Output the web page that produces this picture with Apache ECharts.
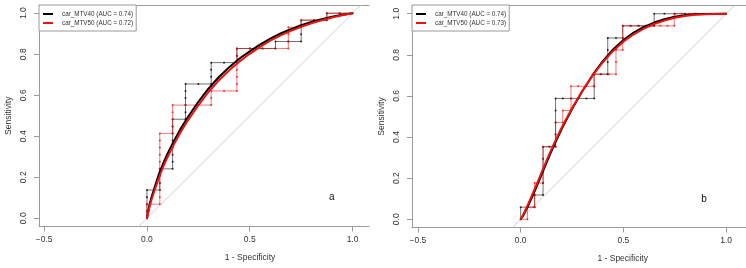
<!DOCTYPE html>
<html>
<head>
<meta charset="utf-8">
<script src="https://cdn.jsdelivr.net/npm/echarts@6/dist/echarts.min.js"></script>
<style>
html,body{margin:0;padding:0;background:#fff;}
#chart{width:746px;height:268px;}
</style>
</head>
<body>
<div id="chart"></div>
<script>
// ---------- DATA ----------
var xTicks = [-0.5, 0, 0.5, 1.0];
var xTickLabels = ['\u22120.5', '0.0', '0.5', '1.0'];
var yTicks = [0, 0.2, 0.4, 0.6, 0.8, 1.0];
var yTickLabels = ['0.0', '0.2', '0.4', '0.6', '0.8', '1.0'];

var legendA = ['car_MTV40 (AUC = 0.74)', 'car_MTV50 (AUC = 0.72)'];
var legendB = ['car_MTV40 (AUC = 0.74)', 'car_MTV50 (AUC = 0.73)'];
var panelLabels = ['a', 'b'];
var xTitle = '1 - Specificity';
var yTitle = 'Sensitivity';

var diagonal = [[-0.04, -0.04], [1.04, 1.04]];

// panel a – empirical (step) curves, one point per threshold
var stepA40 = [[0,0],[0,0.034],[0,0.069],[0,0.103],[0,0.138],
  [0.0625,0.138],[0.0625,0.172],[0.0625,0.207],[0.0625,0.241],
  [0.125,0.241],[0.125,0.276],[0.125,0.310],[0.125,0.345],[0.125,0.379],[0.125,0.414],[0.125,0.448],[0.125,0.483],
  [0.1875,0.483],[0.1875,0.517],[0.1875,0.552],[0.1875,0.586],[0.1875,0.621],[0.1875,0.655],
  [0.25,0.655],[0.3125,0.655],[0.3125,0.690],[0.3125,0.724],[0.3125,0.759],
  [0.375,0.759],[0.4375,0.759],[0.4375,0.793],[0.4375,0.828],
  [0.5,0.828],[0.5625,0.828],[0.625,0.828],[0.625,0.862],
  [0.6875,0.862],[0.75,0.862],[0.75,0.897],[0.75,0.931],[0.75,0.966],
  [0.8125,0.966],[0.875,0.966],[0.875,1],[0.9375,1],[1,1]];
var stepA50 = [[0,0],[0,0.034],[0,0.069],
  [0.0625,0.069],[0.0625,0.103],[0.0625,0.138],[0.0625,0.172],[0.0625,0.207],[0.0625,0.241],[0.0625,0.276],[0.0625,0.310],[0.0625,0.345],[0.0625,0.379],[0.0625,0.414],
  [0.125,0.414],[0.125,0.448],[0.125,0.483],[0.125,0.517],[0.125,0.552],
  [0.1875,0.552],[0.25,0.552],[0.3125,0.552],[0.3125,0.586],[0.3125,0.621],
  [0.375,0.621],[0.4375,0.621],[0.4375,0.655],[0.4375,0.690],[0.4375,0.724],[0.4375,0.759],[0.4375,0.793],[0.4375,0.828],
  [0.5,0.828],[0.5625,0.828],[0.625,0.828],[0.6875,0.828],[0.6875,0.862],[0.6875,0.897],[0.6875,0.931],
  [0.75,0.931],[0.75,0.966],[0.8125,0.966],[0.875,0.966],[0.875,1],[0.9375,1],[1,1]];
// panel a – smoothed curves
var smoothA40 = [[0,0],[0.01,0.055],[0.02,0.095],[0.04,0.16],[0.06,0.22],[0.08,0.27],[0.1,0.315],[0.13,0.375],[0.16,0.43],[0.2,0.495],[0.25,0.568],[0.3,0.633],[0.35,0.689],[0.4,0.737],[0.45,0.779],[0.5,0.814],[0.55,0.847],[0.6,0.876],[0.65,0.901],[0.7,0.922],[0.75,0.941],[0.8,0.957],[0.85,0.971],[0.9,0.983],[0.95,0.993],[1,1]];
var smoothA50 = [[0,0],[0.01,0.045],[0.02,0.083],[0.04,0.145],[0.06,0.203],[0.08,0.253],[0.1,0.298],[0.13,0.358],[0.16,0.413],[0.2,0.479],[0.25,0.551],[0.3,0.617],[0.35,0.673],[0.4,0.722],[0.45,0.765],[0.5,0.802],[0.55,0.836],[0.6,0.866],[0.65,0.892],[0.7,0.914],[0.75,0.934],[0.8,0.951],[0.85,0.966],[0.9,0.979],[0.95,0.99],[1,1]];

// panel b – empirical (step) curves
var stepB40 = [[0,0],[0,0.059],[0.034,0.059],[0.068,0.059],[0.068,0.118],
  [0.109,0.118],[0.109,0.176],[0.109,0.235],[0.109,0.294],[0.109,0.353],
  [0.14,0.353],[0.17,0.353],[0.17,0.412],[0.17,0.471],[0.17,0.529],[0.17,0.588],
  [0.205,0.588],[0.245,0.588],[0.28,0.588],[0.32,0.588],[0.358,0.588],[0.358,0.647],[0.358,0.706],
  [0.39,0.706],[0.424,0.706],[0.424,0.765],[0.424,0.824],[0.424,0.882],
  [0.464,0.882],[0.497,0.882],[0.497,0.941],
  [0.535,0.941],[0.575,0.941],[0.61,0.941],[0.65,0.941],[0.65,1],
  [0.7,1],[0.75,1],[0.8,1],[0.85,1],[0.9,1],[0.95,1],[1,1]];
var stepB50 = [[0,0],[0.033,0],[0.033,0.059],[0.068,0.059],[0.068,0.118],[0.068,0.176],
  [0.109,0.176],[0.109,0.235],[0.109,0.294],[0.109,0.353],
  [0.14,0.353],[0.17,0.353],[0.17,0.412],[0.17,0.471],
  [0.205,0.471],[0.205,0.529],[0.245,0.529],[0.245,0.588],[0.245,0.647],
  [0.28,0.647],[0.32,0.647],[0.358,0.647],[0.358,0.706],
  [0.39,0.706],[0.43,0.706],[0.464,0.706],[0.464,0.765],[0.464,0.824],
  [0.497,0.824],[0.497,0.882],[0.497,0.941],
  [0.535,0.941],[0.57,0.941],[0.61,0.941],[0.645,0.941],[0.68,0.941],[0.715,0.941],[0.748,0.941],[0.748,1],
  [0.785,1],[0.82,1],[0.855,1],[0.89,1],[0.925,1],[0.96,1],[1,1]];
// panel b – smoothed curves
var smoothB40 = [[0,0],[0.01,0.015],[0.02,0.033],[0.04,0.074],[0.06,0.118],[0.08,0.165],[0.1,0.213],[0.13,0.285],[0.16,0.355],[0.2,0.44],[0.25,0.536],[0.3,0.623],[0.35,0.701],[0.4,0.769],[0.45,0.826],[0.5,0.872],[0.55,0.908],[0.6,0.936],[0.65,0.957],[0.7,0.973],[0.75,0.985],[0.8,0.993],[0.85,0.997],[0.9,0.999],[1,1]];
var smoothB50 = [[0,0],[0.01,0.018],[0.02,0.038],[0.04,0.082],[0.06,0.128],[0.08,0.175],[0.1,0.223],[0.13,0.295],[0.16,0.363],[0.2,0.447],[0.25,0.54],[0.3,0.624],[0.35,0.699],[0.4,0.764],[0.45,0.819],[0.5,0.864],[0.55,0.9],[0.6,0.928],[0.65,0.95],[0.7,0.967],[0.75,0.98],[0.8,0.989],[0.85,0.995],[0.9,0.998],[1,1]];

// ---------- STYLE ----------
var FONT = '"Liberation Sans", Arial, Helvetica, sans-serif';
var AXIS_COL = '#9a9a9a';
var TEXT_COL = '#333';
var BLACK = '#000000';
var RED = '#f01010';

var grids = [
  {left: 39, top: 5, width: 330, height: 221.5, xmin: -0.525, xmax: 1.08},
  {left: 412, top: 5.5, width: 334, height: 222, xmin: -0.529, xmax: 1.097}
];

var chart = echarts.init(document.getElementById('chart'), null, {renderer: 'canvas'});

function fmtFrom(vals, labels) {
  return function (v) {
    for (var i = 0; i < vals.length; i++) if (Math.abs(vals[i] - v) < 1e-9) return labels[i];
    return '';
  };
}

var xAxes = [], yAxes = [];
grids.forEach(function (g, i) {
  xAxes.push({
    type: 'value', gridIndex: i, min: g.xmin, max: g.xmax, position: 'bottom',
    axisLine: {show: true, onZero: false, lineStyle: {color: AXIS_COL, width: 1}},
    axisTick: {show: true, customValues: xTicks, length: 5, lineStyle: {color: AXIS_COL}},
    axisLabel: {show: true, customValues: xTicks, formatter: fmtFrom(xTicks, xTickLabels),
      margin: 9, fontSize: 8.5, fontFamily: FONT, color: TEXT_COL},
    splitLine: {show: false}
  });
});
grids.forEach(function (g, i) {
  xAxes.push({
    type: 'value', gridIndex: i, min: g.xmin, max: g.xmax, position: 'top',
    axisLine: {show: true, onZero: false, lineStyle: {color: AXIS_COL, width: 1}},
    axisTick: {show: false}, axisLabel: {show: false}, splitLine: {show: false}
  });
});
grids.forEach(function (g, i) {
  yAxes.push({
    type: 'value', gridIndex: i, min: -0.04, max: 1.04,
    name: yTitle, nameLocation: 'middle', nameGap: 26, nameRotate: 90,
    nameTextStyle: {fontSize: 8.5, fontFamily: FONT, color: TEXT_COL},
    axisLine: {show: true, onZero: false, lineStyle: {color: AXIS_COL, width: 1}},
    axisTick: {show: true, customValues: yTicks, length: 5, lineStyle: {color: AXIS_COL}},
    axisLabel: {show: true, customValues: yTicks, formatter: fmtFrom(yTicks, yTickLabels),
      rotate: 90, margin: 11, fontSize: 8.5, fontFamily: FONT, color: TEXT_COL},
    splitLine: {show: false}
  });
});

function stepSeries(name, data, color, idx) {
  return {
    type: 'line', name: name, xAxisIndex: idx, yAxisIndex: idx, data: data,
    showSymbol: true, showAllSymbol: true, symbol: 'circle', symbolSize: 2,
    itemStyle: {color: color, opacity: 0.8},
    lineStyle: {color: color, width: 0.8, opacity: 0.7},
    silent: true, z: 3
  };
}
function smoothSeries(name, data, color, idx, z) {
  return {
    type: 'line', name: name, xAxisIndex: idx, yAxisIndex: idx, data: data,
    showSymbol: false, smooth: false, color: color,
    itemStyle: {color: color},
    lineStyle: {color: color, width: 2},
    silent: true, z: z
  };
}
function diagSeries(idx) {
  return {
    type: 'line', name: 'diag' + idx, xAxisIndex: idx, yAxisIndex: idx, data: diagonal,
    showSymbol: false, lineStyle: {color: '#cfcfcf', width: 1}, silent: true, z: 2
  };
}

var series = [
  diagSeries(0),
  stepSeries('a40 steps', stepA40, BLACK, 0),
  stepSeries('a50 steps', stepA50, RED, 0),
  smoothSeries(legendA[0], smoothA40, BLACK, 0, 4),
  smoothSeries(legendA[1], smoothA50, RED, 0, 5),
  diagSeries(1),
  stepSeries('b40 steps', stepB40, BLACK, 1),
  stepSeries('b50 steps', stepB50, RED, 1),
  smoothSeries(legendB[0], smoothB40, BLACK, 1, 4),
  smoothSeries(legendB[1], smoothB50, RED, 1, 5)
];

function legendCfg(left, data) {
  return {
    left: left, top: 5, orient: 'vertical', data: data,
    icon: 'rect', itemWidth: 10, itemHeight: 2, itemGap: 3,
    padding: [6, 3, 5, 4],
    borderColor: AXIS_COL, borderWidth: 1, backgroundColor: '#fff',
    selectedMode: false,
    textStyle: {fontSize: 6.3, fontFamily: FONT, color: TEXT_COL, padding: [0, 0, 0, 4]}
  };
}

var option = {
  animation: false,
  backgroundColor: '#fff',
  grid: grids.map(function (g) {
    return {left: g.left, top: g.top, width: g.width, height: g.height,
      containLabel: false, outerBoundsMode: 'none', show: false};
  }),
  xAxis: xAxes,
  yAxis: yAxes,
  legend: [legendCfg(39, legendA), legendCfg(412, legendB)],
  series: series,
  graphic: [
    {type: 'text', x: 250, y: 258, style: {text: xTitle, align: 'center', verticalAlign: 'middle',
      fontSize: 8.5, fontFamily: FONT, fill: TEXT_COL}},
    {type: 'text', x: 622.7, y: 259, style: {text: xTitle, align: 'center', verticalAlign: 'middle',
      fontSize: 8.5, fontFamily: FONT, fill: TEXT_COL}},
    {type: 'text', x: 331.7, y: 197, style: {text: panelLabels[0], align: 'center', verticalAlign: 'middle',
      fontSize: 10, fontFamily: FONT, fill: '#111'}},
    {type: 'text', x: 704, y: 199.7, style: {text: panelLabels[1], align: 'center', verticalAlign: 'middle',
      fontSize: 10, fontFamily: FONT, fill: '#111'}}
  ]
};
chart.setOption(option);
</script>
</body>
</html>
